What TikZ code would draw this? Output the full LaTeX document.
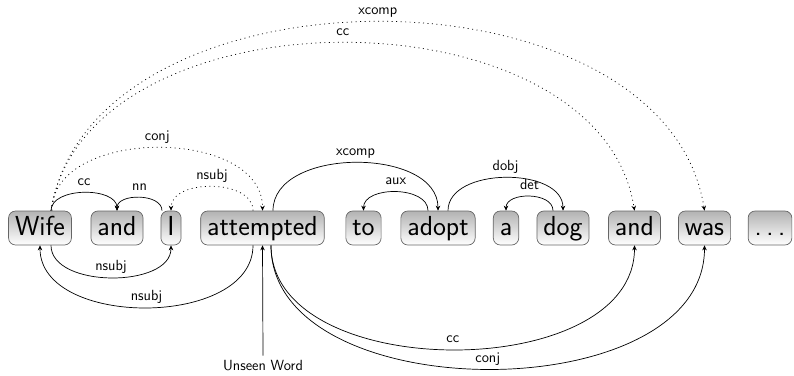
\documentclass[tikz,border=0pt]{standalone}
\usetikzlibrary{arrows.meta}
\begin{document}
\begin{tikzpicture}[x=1pt,y=-1pt,
  word/.style={draw=black!60, rounded corners=7pt, top color=black!30, bottom color=white,
    font=\sffamily\fontsize{27.5}{30}\selectfont, inner xsep=6.5pt, inner ysep=4.35pt,
    text height=19.8pt, text depth=5.5pt, line width=0.7pt},
  dep/.style={-{Stealth[length=5pt,width=4.5pt]}, line width=0.7pt},
  weak/.style={dep, dash pattern=on 1pt off 3.5pt},
  lbl/.style={font=\sffamily\fontsize{14.7}{16}\selectfont, anchor=base, yshift=7pt, inner sep=0pt},
  note/.style={font=\sffamily\fontsize{14.7}{16}\selectfont, inner sep=5pt}]
\useasboundingbox (0,0) rectangle (794,375);

% the words of the sentence
\node[word] (wife)      at (40,228)    {Wife};
\node[word] (and1)      at (117,228)   {and};
\node[word] (I)         at (171,228)   {I};
\node[word] (attempted) at (262.5,228) {attempted};
\node[word] (to)        at (363.5,228) {to};
\node[word] (adopt)     at (438,228)   {adopt};
\node[word] (a)         at (506,228)   {a};
\node[word] (dog)       at (563,228)   {dog};
\node[word] (and2)      at (634.5,228) {and};
\node[word] (was)       at (704.5,228) {was};
\node[word] (dots)      at (770,228)   {.\,.\,.};

% dependencies drawn above the words
\draw[dep] ([xshift=11pt]wife.north) .. controls +(0,-24) and +(0,-24) .. (and1.north)
  node[lbl,pos=.5] {cc};
\draw[dep] ([xshift=-9pt]I.north) .. controls +(0,-17.5) and +(0,-17.5) .. (and1.north)
  node[lbl,pos=.5] {nn};
\draw[weak] ([xshift=-9.5pt]attempted.north) .. controls +(0,-32) and +(0,-32) .. (I.north)
  node[lbl,pos=.5] {nsubj};
\draw[weak] ([xshift=12pt]wife.north) .. controls +(0,-84) and +(0,-84) .. (attempted.north)
  node[lbl,pos=.5] {conj};
\draw[weak] ([xshift=11pt]wife.north) .. controls +(40,-252) and +(-40,-252) .. (was.north)
  node[lbl,pos=.5] {xcomp};
\draw[weak] ([xshift=11pt]wife.north) .. controls +(35,-224) and +(-35,-224) .. (and2.north)
  node[lbl,pos=.5] {cc};
\draw[dep] ([xshift=10.5pt]attempted.north) .. controls +(0,-64) and +(0,-64) .. (adopt.north)
  node[lbl,pos=.5] {xcomp};
\draw[dep] ([xshift=-10pt]adopt.north) .. controls +(0,-25) and +(0,-25) .. (to.north)
  node[lbl,pos=.5] {aux};
\draw[dep] ([xshift=10pt]adopt.north) .. controls +(0,-44) and +(0,-44) .. (dog.north)
  node[lbl,pos=.5] {dobj};
\draw[dep] ([xshift=-10pt]dog.north) .. controls +(0,-19) and +(0,-19) .. (a.north)
  node[lbl,pos=.5] {det};

% dependencies drawn below the words
\draw[dep] ([xshift=11pt]wife.south) .. controls +(0,43) and +(0,43) .. (I.south)
  node[lbl,pos=.5] {nsubj};
\draw[dep] ([xshift=-9.5pt]attempted.south) .. controls +(0,83) and +(0,83) .. (wife.south)
  node[lbl,pos=.5] {nsubj};
\draw[dep] ([xshift=8.5pt]attempted.south) .. controls +(0,139) and +(0,139) .. (and2.south)
  node[lbl,pos=.5] {cc};
\draw[dep] ([xshift=8.5pt]attempted.south) .. controls +(0,165) and +(0,165) .. (was.south)
  node[lbl,pos=.5] {conj};

% pointer to the unseen word
\node[note] (unseen) at (263,366) {Unseen Word};
\draw[dep] (unseen.north) -- (attempted.south);
\end{tikzpicture}
\end{document}
